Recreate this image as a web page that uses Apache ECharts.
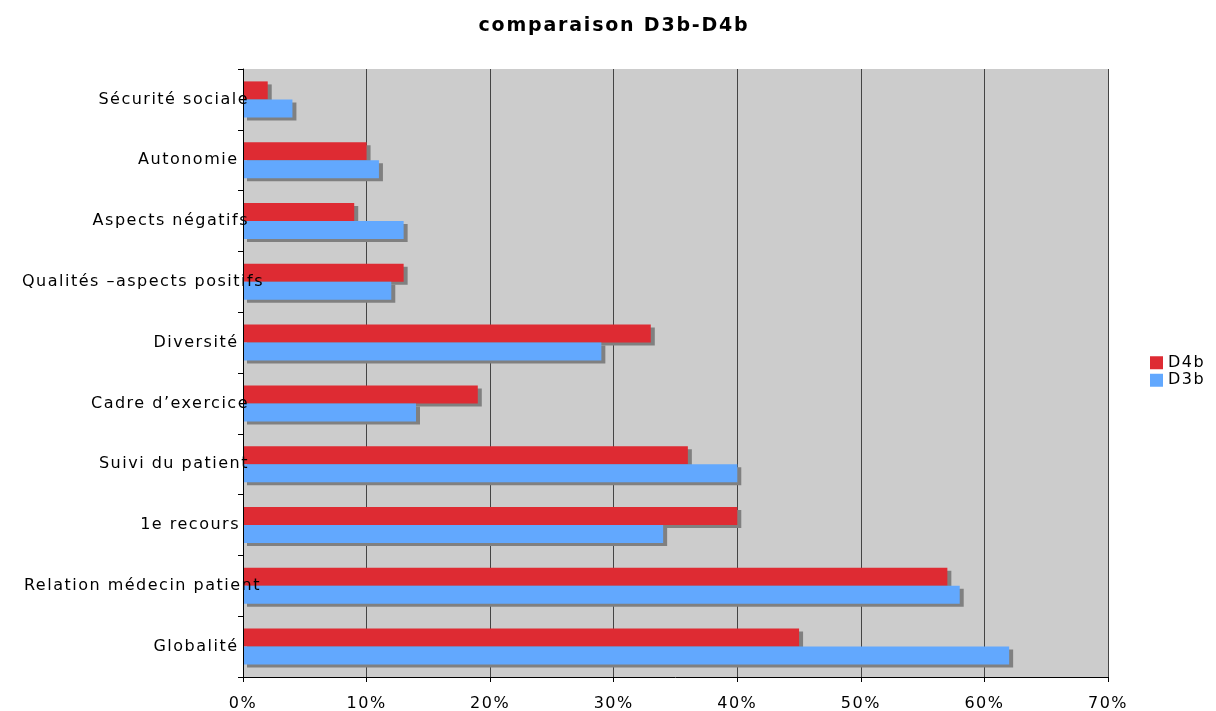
<!DOCTYPE html>
<html><head><meta charset="utf-8">
<script src="https://cdn.jsdelivr.net/npm/echarts@6/dist/echarts.min.js"></script>
<style>html,body{margin:0;padding:0;background:#fff}#c{width:1216px;height:711px}</style>
</head><body><div id="c"></div>
<script>
// letter spacing emulation for canvas text (the reference uses widely spaced text)
(function(){
  const proto = CanvasRenderingContext2D.prototype;
  const oFill = proto.fillText, oMeasure = proto.measureText;
  function spacing(ctx){ return /bold|700/.test(ctx.font) ? 1.8 : 1.5; }
  proto.fillText = function(text, x, y){
    if (!('letterSpacing' in this)) return oFill.apply(this, arguments);
    const s = spacing(this);
    if (this.textAlign === 'right' || this.textAlign === 'end') {
      this.letterSpacing = '0px';
      const w = oMeasure.call(this, text).width;
      this.letterSpacing = s + 'px';
      const a = this.textAlign;
      this.textAlign = 'left';
      const r = oFill.call(this, text, x - w, y);
      this.textAlign = a;
      return r;
    }
    this.letterSpacing = s + 'px';
    return oFill.apply(this, arguments);
  };
  proto.measureText = function(){
    if ('letterSpacing' in this) this.letterSpacing = spacing(this) + 'px';
    return oMeasure.apply(this, arguments);
  };
})();

const categories = ['Globalité','Relation médecin patient','1e recours','Suivi du patient','Cadre d\u2019exercice','Diversité','Qualités \u2013aspects positifs','Aspects négatifs','Autonomie','Sécurité sociale'];
const d4b = [45, 57, 40, 36, 19, 33, 13, 9, 10, 2];
const d3b = [62, 58, 34, 40, 14, 29, 12, 13, 11, 4];
const xTicks = {min: 0, max: 70, interval: 10};

const font = 'DejaVu Sans';
const shadow = {shadowColor: '#808080', shadowBlur: 0, shadowOffsetX: 4, shadowOffsetY: 3};
const chart = echarts.init(document.getElementById('c'));
chart.setOption({
  animation: false,
  title: {text: 'comparaison D3b-D4b', left: 609, textAlign: 'center', top: 11,
    textStyle: {fontFamily: font, fontWeight: 'bold', fontSize: 19, color: '#000'}},
  legend: {orient: 'vertical', left: 1145, top: 349, itemWidth: 13, itemHeight: 13, itemGap: 0,
    icon: 'rect', data: ['D4b', 'D3b'],
    textStyle: {fontFamily: font, fontSize: 16, color: '#000'}},
  grid: {left: 243, right: 108, top: 69, bottom: 34, show: true, backgroundColor: '#CCCCCC', borderWidth: 0,
    outerBoundsMode: 'none', containLabel: false},
  xAxis: {type: 'value', min: xTicks.min, max: xTicks.max, interval: xTicks.interval,
    axisLine: {show: true, lineStyle: {color: '#000'}},
    axisTick: {show: true, length: 5, lineStyle: {color: '#000'}},
    splitLine: {show: true, lineStyle: {color: '#444', width: 1}},
    axisLabel: {formatter: '{value}%', fontFamily: font, fontSize: 16, color: '#000', margin: 18}},
  yAxis: {type: 'category', data: categories, z: 5,
    axisLine: {show: true, lineStyle: {color: '#000'}},
    axisTick: {show: true, length: 5, lineStyle: {color: '#000'}},
    axisLabel: {fontFamily: font, fontSize: 16, color: '#000', margin: 18}},
  series: [
    {name: 'D4b', type: 'bar', data: d4b, barWidth: 18, barGap: '0%',
     itemStyle: Object.assign({color: '#DE2B33'}, shadow)},
    {name: 'D3b', type: 'bar', data: d3b, barWidth: 18, barGap: '0%',
     itemStyle: Object.assign({color: '#62A8FE'}, shadow)}
  ]
});
</script></body></html>
